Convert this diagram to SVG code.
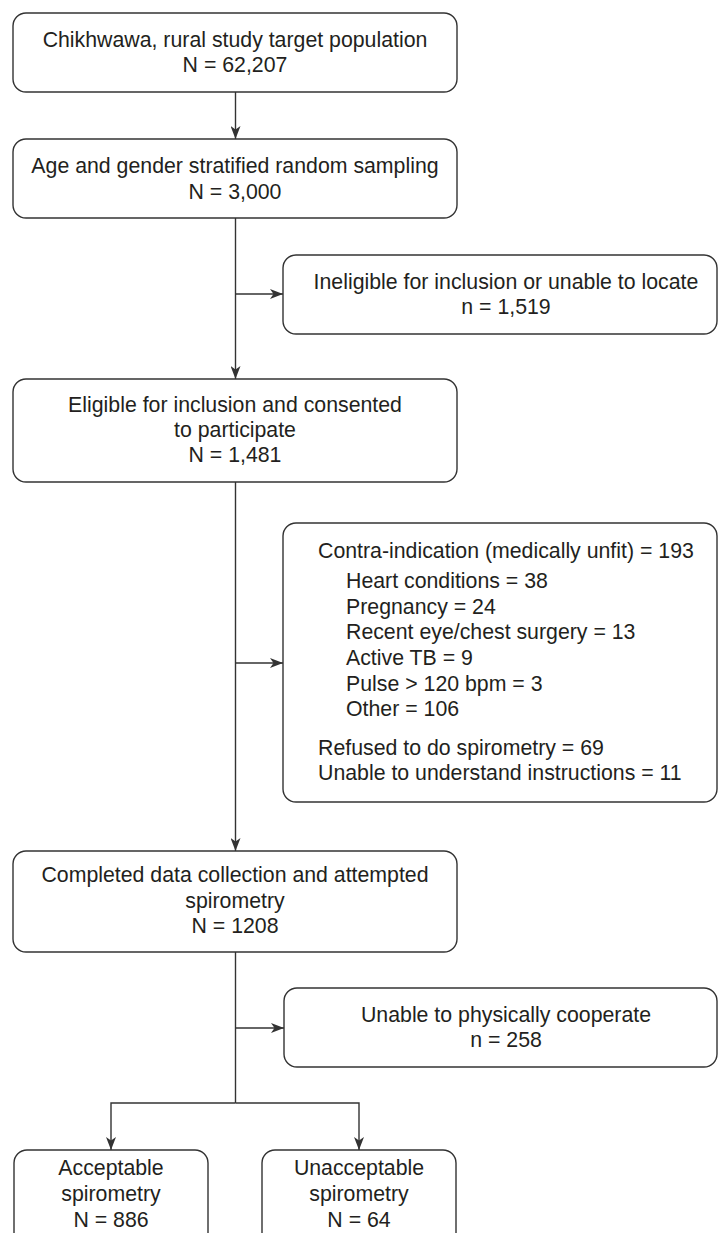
<svg xmlns="http://www.w3.org/2000/svg" width="718" height="1233" viewBox="0 0 718 1233">
<style>
.box{fill:#fff;stroke:#333;stroke-width:1.4}
.t{font-family:"Liberation Sans",Arial,Helvetica,sans-serif;font-size:21.3px;fill:#231f20}
.c{text-anchor:middle}
.ln{fill:none;stroke:#333;stroke-width:1.4}
</style>
<defs>
<marker id="ah" viewBox="0 0 13 10" refX="13" refY="5" markerWidth="13" markerHeight="10" markerUnits="userSpaceOnUse" orient="auto">
<path d="M0,0 L13,5 L0,10 L3.5,5 z" fill="#333"/>
</marker>
</defs>
<rect width="718" height="1233" fill="#fff"/>
<g id="connectors">
<line class="ln" x1="235.5" y1="92" x2="235.5" y2="139" marker-end="url(#ah)"/>
<line class="ln" x1="235.5" y1="218" x2="235.5" y2="379" marker-end="url(#ah)"/>
<line class="ln" x1="235.5" y1="294" x2="283" y2="294" marker-end="url(#ah)"/>
<line class="ln" x1="235.5" y1="482" x2="235.5" y2="851" marker-end="url(#ah)"/>
<line class="ln" x1="235.5" y1="663" x2="283" y2="663" marker-end="url(#ah)"/>
<line class="ln" x1="235.5" y1="952" x2="235.5" y2="1103"/>
<line class="ln" x1="235.5" y1="1028" x2="284" y2="1028" marker-end="url(#ah)"/>
<polyline class="ln" points="235.5,1103 111,1103 111,1150" marker-end="url(#ah)"/>
<polyline class="ln" points="235.5,1103 359,1103 359,1150" marker-end="url(#ah)"/>
</g>
<g id="n1">
<rect class="box" x="13" y="13" width="444" height="79" rx="13"/>
<text class="t c" x="235" y="47">Chikhwawa, rural study target population</text>
<text class="t c" x="235" y="72">N = 62,207</text>
</g>
<g id="n2">
<rect class="box" x="13" y="139" width="444" height="79" rx="13"/>
<text class="t c" x="235" y="173">Age and gender stratified random sampling</text>
<text class="t c" x="235" y="199">N = 3,000</text>
</g>
<g id="n3">
<rect class="box" x="283" y="255" width="434" height="79" rx="13"/>
<text class="t c" x="506" y="289">Ineligible for inclusion or unable to locate</text>
<text class="t c" x="506" y="314">n = 1,519</text>
</g>
<g id="n4">
<rect class="box" x="13" y="379" width="444" height="103" rx="13"/>
<text class="t c" x="235" y="412">Eligible for inclusion and consented</text>
<text class="t c" x="235" y="437">to participate</text>
<text class="t c" x="235" y="462">N = 1,481</text>
</g>
<g id="n5">
<rect class="box" x="283" y="523" width="434" height="279" rx="13"/>
<text class="t" x="318" y="558">Contra-indication (medically unfit) = 193</text>
<text class="t" x="346" y="588">Heart conditions = 38</text>
<text class="t" x="346" y="614">Pregnancy = 24</text>
<text class="t" x="346" y="639">Recent eye/chest surgery = 13</text>
<text class="t" x="346" y="665">Active TB = 9</text>
<text class="t" x="346" y="691">Pulse &gt; 120 bpm = 3</text>
<text class="t" x="346" y="716">Other = 106</text>
<text class="t" x="318" y="755">Refused to do spirometry = 69</text>
<text class="t" x="318" y="780">Unable to understand instructions = 11</text>
</g>
<g id="n6">
<rect class="box" x="13" y="851" width="444" height="101" rx="13"/>
<text class="t c" x="235" y="882">Completed data collection and attempted</text>
<text class="t c" x="235" y="908">spirometry</text>
<text class="t c" x="235" y="933">N = 1208</text>
</g>
<g id="n7">
<rect class="box" x="284" y="988" width="433" height="79" rx="13"/>
<text class="t c" x="506" y="1022">Unable to physically cooperate</text>
<text class="t c" x="506" y="1047">n = 258</text>
</g>
<g id="n8">
<rect class="box" x="14" y="1150" width="194" height="110" rx="13"/>
<text class="t c" x="111" y="1175">Acceptable</text>
<text class="t c" x="111" y="1201">spirometry</text>
<text class="t c" x="111" y="1227">N = 886</text>
</g>
<g id="n9">
<rect class="box" x="262" y="1150" width="194" height="110" rx="13"/>
<text class="t c" x="359" y="1175">Unacceptable</text>
<text class="t c" x="359" y="1201">spirometry</text>
<text class="t c" x="359" y="1227">N = 64</text>
</g>
</svg>
